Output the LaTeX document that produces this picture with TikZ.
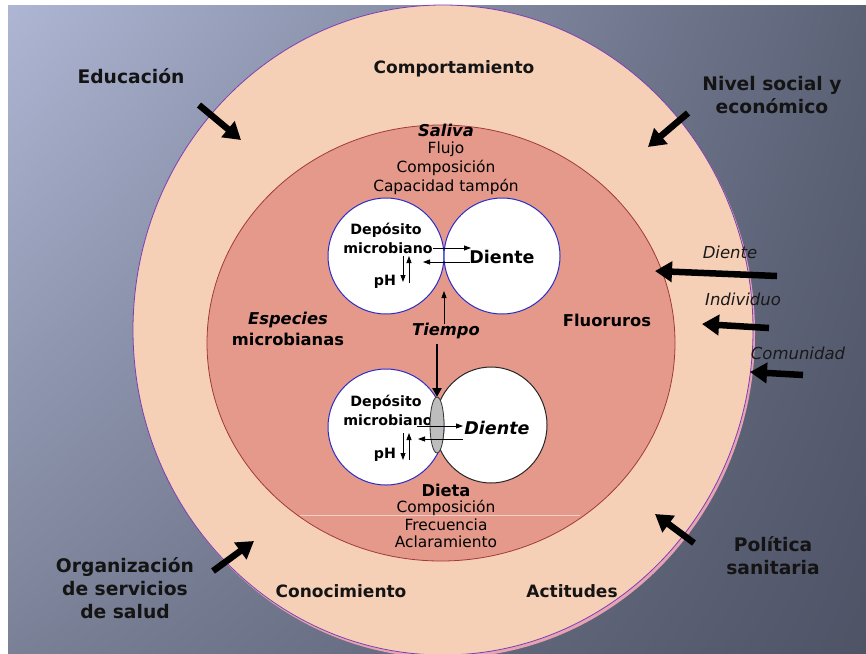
\documentclass[tikz,border=0pt]{standalone}
\usepackage{fontspec}
\setmainfont{DejaVu Sans}
\usetikzlibrary{arrows.meta,shadings}
\definecolor{bgA}{HTML}{AEB6D4}
\definecolor{bgB}{HTML}{5C6276}
\definecolor{bgC}{HTML}{7A8197}
\definecolor{bgD}{HTML}{4E5366}
\definecolor{ringFill}{HTML}{F5CFB6}
\definecolor{ringLine}{HTML}{7B3FB3}
\definecolor{coreFill}{HTML}{E4998B}
\definecolor{coreLine}{HTML}{A23A3A}
\definecolor{ringShadow}{HTML}{E7A3B3}
\definecolor{lensGray}{HTML}{BDBDBD}
\definecolor{plaqueLine}{HTML}{2B2BC8}
\tikzset{
  ringlabel/.style={font=\bfseries\fontsize{17}{23}\selectfont, text=black!92, align=center, inner sep=0pt},
  outerlabel/.style={font=\bfseries\fontsize{18.7}{23}\selectfont, text=black!92, align=center, inner sep=0pt},
  corelabel/.style={font=\bfseries\fontsize{16.3}{18}\selectfont, align=center, inner sep=0pt},
  coreitalic/.style={font=\bfseries\itshape\fontsize{16.3}{18}\selectfont, inner sep=0pt},
  plainline/.style={font=\fontsize{15.4}{17}\selectfont, inner sep=0pt},
  sidelabel/.style={font=\itshape\fontsize{16.5}{18}\selectfont, text=black!90, inner sep=0pt},
  cellsmall/.style={font=\bfseries\fontsize{14.2}{16}\selectfont, inner sep=0pt},
  bigarrow/.style={line width=6.5pt, -{Triangle[length=17pt,width=20pt]}},
  midarrow/.style={line width=2.4pt, -{Triangle[length=9pt,width=9pt]}},
  thinarrow/.style={line width=0.8pt, -{Triangle[length=7pt,width=5pt]}},
}
\begin{document}
\begin{tikzpicture}[x=1pt,y=-1pt]
\useasboundingbox (0,0) rectangle (866,653);
\clip (0,0) rectangle (866,653);
% backdrop
\fill[white] (0,0) rectangle (866,653);
\shade[upper left=bgA, upper right=bgB, lower left=bgC, lower right=bgD] (8,5) rectangle (866,653);

% outer ring and core
\fill[ringShadow] (445,333) ellipse [x radius=310pt, y radius=325pt];
\draw[ringLine, fill=ringFill, line width=0.8pt] (443,330) ellipse [x radius=310pt, y radius=325pt];
\draw[coreLine, fill=coreFill, line width=0.8pt] (441,343) ellipse [x radius=234pt, y radius=218pt];
\draw[white!55!coreFill, line width=0.6pt] (300,515) -- (580,515);

% cells
\draw[plaqueLine, fill=white, line width=1pt] (386,256) circle [radius=58pt];
\draw[plaqueLine, fill=white, line width=1pt] (502,256) circle [radius=58pt];
\draw[black!85, fill=white, line width=1pt] (491,425) ellipse [x radius=56pt, y radius=58pt];
\draw[plaqueLine, fill=white, line width=1pt] (386,427) circle [radius=58pt];

% ring labels
\node[ringlabel] (comport) at (454,69) {Comportamiento};
\node[outerlabel] (educ) at (131,76) {Educación};
\node[outerlabel] (nivel) at (772,95) {Nivel social y\\económico};
\node[outerlabel] (organiz) at (125,588) {Organización\\de servicios\\de salud};
\node[ringlabel] (conoc) at (341,591) {Conocimiento};
\node[ringlabel] (actit) at (572,591) {Actitudes};
\node[outerlabel] (polit) at (773,556) {Política\\sanitaria};

% core labels
\node[coreitalic] (saliva) at (446,130) {Saliva};
\node[plainline] (flujo) at (446,149) {Flujo};
\node[plainline] (compA) at (446,168) {Composición};
\node[plainline] (tampon) at (446,187) {Capacidad tampón};
\node[coreitalic] (especies) at (288,320) {Especies};
\node[corelabel] (microb) at (288,339) {microbianas};
\node[corelabel] (fluor) at (607,320) {Fluoruros};
\node[coreitalic] (tiempo) at (446,331) {Tiempo};
\node[corelabel] (dieta) at (446,490) {Dieta};
\node[plainline] (compB) at (446,508) {Composición};
\node[plainline] (frec) at (446,525) {Frecuencia};
\node[plainline] (aclar) at (446,542) {Aclaramiento};

% upper cell pair
\node[cellsmall] (depA) at (386,230) {Depósito};
\node[cellsmall] (micA) at (388,248) {microbiano};
\node[cellsmall] (phA) at (385,282) {pH};
\node[corelabel, font=\bfseries\fontsize{17.5}{18}\selectfont] (dienteA) at (502,257) {Diente};

% lower cell pair
\node[cellsmall] (depB) at (386,402) {Depósito};
\node[cellsmall] (micB) at (388,420) {microbiano};
\node[cellsmall] (phB) at (385,455) {pH};
\node[coreitalic, font=\bfseries\itshape\fontsize{17.5}{18}\selectfont] (dienteB) at (497,428) {Diente};
\draw[black!80, fill=lensGray, line width=0.8pt] (437,425) ellipse [x radius=7pt, y radius=28pt];

% side labels
\node[sidelabel] (sdiente) at (730,252) {Diente};
\node[sidelabel] (sindiv) at (743,299) {Individuo};
\node[sidelabel] (scomun) at (798,353) {Comunidad};

% arrow ends
\coordinate (eduT) at (199,105);   \coordinate (eduH) at (241,140);
\coordinate (nivT) at (688,113);   \coordinate (nivH) at (648,147);
\coordinate (orgT) at (213,571);   \coordinate (orgH) at (254,541);
\coordinate (polT) at (694,543);   \coordinate (polH) at (655,514);
\coordinate (sdT) at (777,276);    \coordinate (sdH) at (655,271);
\coordinate (siT) at (769,328);    \coordinate (siH) at (702,324);
\coordinate (scT) at (803,375);    \coordinate (scH) at (750,372);
\coordinate (tUpT) at (444,324);   \coordinate (tUpH) at (444,291);
\coordinate (tDnT) at (437,344);   \coordinate (tDnH) at (437,397);
\coordinate (aRT) at (433,248);    \coordinate (aRH) at (471,248);
\coordinate (aLT) at (470,262);    \coordinate (aLH) at (423,262);
\coordinate (aDT) at (403,256);    \coordinate (aDH) at (403,282);
\coordinate (aUT) at (409,283);    \coordinate (aUH) at (409,256);
\coordinate (bRT) at (417,426);    \coordinate (bRH) at (463,426);
\coordinate (bLT) at (463,439);    \coordinate (bLH) at (418,439);
\coordinate (bDT) at (403,433);    \coordinate (bDH) at (403,460);
\coordinate (bUT) at (409,460);    \coordinate (bUH) at (409,433);

\draw[bigarrow] (eduT) -- (eduH);
\draw[bigarrow] (nivT) -- (nivH);
\draw[bigarrow] (orgT) -- (orgH);
\draw[bigarrow] (polT) -- (polH);
\draw[bigarrow] (sdT) -- (sdH);
\draw[bigarrow] (siT) -- (siH);
\draw[bigarrow] (scT) -- (scH);
\draw[thinarrow] (tUpT) -- (tUpH);
\draw[midarrow] (tDnT) -- (tDnH);
\draw[thinarrow] (aRT) -- (aRH);
\draw[thinarrow] (aLT) -- (aLH);
\draw[thinarrow] (aDT) -- (aDH);
\draw[thinarrow] (aUT) -- (aUH);
\draw[thinarrow] (bRT) -- (bRH);
\draw[thinarrow] (bLT) -- (bLH);
\draw[thinarrow] (bDT) -- (bDH);
\draw[thinarrow] (bUT) -- (bUH);
\end{tikzpicture}
\end{document}
